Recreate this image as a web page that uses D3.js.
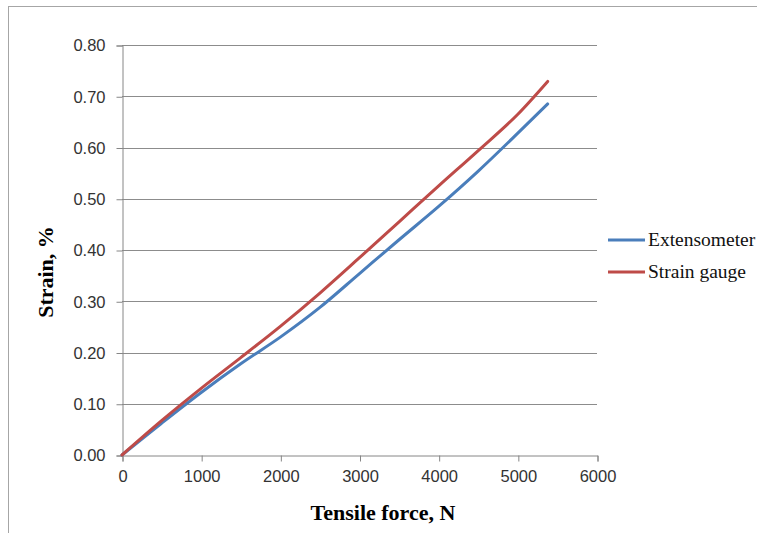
<!DOCTYPE html>
<html><head><meta charset="utf-8">
<script src="https://cdn.jsdelivr.net/npm/d3@7"></script>
<style>html,body{margin:0;padding:0;background:#fff;}</style>
</head><body>
<svg id="chart" width="757" height="533"></svg>
<script>
const forces = [0, 500, 1000, 1500, 2000, 2500, 3000, 3500, 4000, 4500, 5000, 5377];
const extensometer = [0, 0.062, 0.122, 0.178, 0.230, 0.288, 0.354, 0.420, 0.485, 0.554, 0.628, 0.685];
const strainGauge = [0, 0.067, 0.130, 0.190, 0.251, 0.316, 0.385, 0.455, 0.525, 0.594, 0.665, 0.729];
const seriesNames = ["Extensometer", "Strain gauge"];
const seriesColors = ["#4a7ebb", "#be4b48"];
const xTicks = [0, 1000, 2000, 3000, 4000, 5000, 6000];
const yTicks = [0, 0.1, 0.2, 0.3, 0.4, 0.5, 0.6, 0.7, 0.8];

const svg = d3.select("#chart");
svg.append("rect").attr("x", 8.5).attr("y", 6.5).attr("width", 900).attr("height", 700)
  .attr("fill", "none").attr("stroke", "#a6a6a6").attr("stroke-width", 1);

const x = d3.scaleLinear().domain([0, 6000]).range([122, 597]);
const y = d3.scaleLinear().domain([0, 0.8]).range([455, 45]);

// gridlines
svg.append("g").selectAll("line").data(yTicks.slice(1)).join("line")
  .attr("x1", x(0)).attr("x2", x(6000))
  .attr("y1", d => Math.round(y(d)) + 0.5).attr("y2", d => Math.round(y(d)) + 0.5)
  .attr("stroke", "#8c8c8c").attr("stroke-width", 1);

const tickFont = "'Liberation Sans', Arial, sans-serif";
// y axis
const yAxis = svg.append("g").attr("transform", `translate(${x(0) + 0.5},0.5)`)
  .call(d3.axisLeft(y).tickValues(yTicks).tickFormat(d3.format(".2f")).tickSize(6).tickPadding(11));
// x axis
const xAxis = svg.append("g").attr("transform", `translate(0.5,${y(0) + 0.5})`)
  .call(d3.axisBottom(x).tickValues(xTicks).tickFormat(d3.format("d")).tickSize(6).tickPadding(9));
[yAxis, xAxis].forEach(a => {
  a.select(".domain").attr("stroke", "#868686");
  a.selectAll(".tick line").attr("stroke", "#868686");
  a.selectAll(".tick text").attr("fill", "#333").style("font-family", tickFont).style("font-size", "16.5px");
});

// lines
const line = d3.line().x((d, i) => x(forces[i])).y(d => y(d)).curve(d3.curveMonotoneX);
[extensometer, strainGauge].forEach((s, k) => {
  svg.append("path").datum(s).attr("d", line).attr("fill", "none")
    .attr("stroke", seriesColors[k]).attr("stroke-width", 3).attr("stroke-linejoin", "round").attr("stroke-linecap", "round");
});

const serif = "'Liberation Serif', 'Times New Roman', serif";
// axis titles
svg.append("text").attr("x", 383).attr("y", 520).attr("text-anchor", "middle")
  .style("font-family", serif).style("font-weight", "bold").style("font-size", "22px")
  .text("Tensile force, N");
svg.append("text").attr("transform", "translate(53,272) rotate(-90)").attr("text-anchor", "middle")
  .style("font-family", serif).style("font-weight", "bold").style("font-size", "22px")
  .text("Strain, %");

// legend
const leg = svg.append("g");
seriesNames.forEach((n, k) => {
  const ly = 240 + k * 32;
  leg.append("line").attr("x1", 608).attr("x2", 645).attr("y1", ly).attr("y2", ly)
    .attr("stroke", seriesColors[k]).attr("stroke-width", 3);
  leg.append("text").attr("x", 648).attr("y", ly + 6)
    .style("font-family", serif).style("font-size", "19.5px").attr("fill", "#111")
    .text(n);
});
</script>
</body></html>
